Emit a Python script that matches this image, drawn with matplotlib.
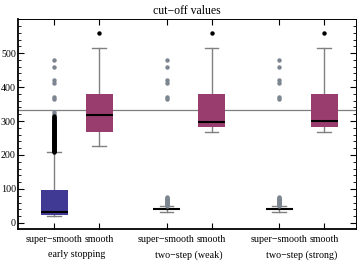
import matplotlib
matplotlib.use("Agg")
import matplotlib.pyplot as plt
from matplotlib.ticker import MultipleLocator
import matplotlib.transforms as mtransforms

plt.rcParams['font.family'] = ['Liberation Serif', 'DejaVu Serif']

# ---- data ----
positions = [1, 2, 3.5, 4.5, 6, 7]
tick_labels = ["super\u2212smooth", "smooth", "super\u2212smooth", "smooth", "super\u2212smooth", "smooth"]
group_labels = ["early stopping", "two\u2212step (weak)", "two\u2212step (strong)"]
group_centers = [1.5, 4.0, 6.5]
box_colors = ["#413a94", "#993d6e", "#413a94", "#993d6e", "#413a94", "#993d6e"]

whislo = [20, 226, 32, 267, 32, 267]
q1 = [24, 267, 37, 283, 37, 283]
medians = [32, 319, 40, 296, 40, 300]
q3 = [97, 379, 42, 379, 42, 379]
whishi = [208, 515, 49, 515, 49, 515]

near_outliers = [
    [209, 211, 213, 215, 217, 219, 221, 223, 225, 227, 229, 231, 233, 235, 237,
     239, 241, 243, 245, 247, 249, 251, 253, 255, 257, 259, 261, 263, 265, 267,
     269, 271, 273, 275, 277, 279, 281, 283, 285, 287, 289, 291, 293, 295, 297,
     299, 301, 303, 306, 309, 312, 316],
    [560],
    [],
    [560],
    [],
    [560],
]
far_outliers = [
    [322, 326, 365, 372, 412, 420, 460, 480],
    [],
    [51, 53, 55, 57, 59, 61, 63, 65, 67, 69, 71, 73, 75, 365, 372, 412, 420, 460, 480],
    [],
    [51, 53, 55, 57, 59, 61, 63, 65, 67, 69, 71, 73, 75, 365, 372, 412, 420, 460, 480],
    [],
]
reference_level = 332

# ---- figure ----
fig = plt.figure(figsize=(3.6, 2.62), dpi=100)
ax = fig.add_axes([0.05, 0.126, 0.939, 0.801])

stats = []
for i in range(len(positions)):
    stats.append(dict(whislo=whislo[i], q1=q1[i], med=medians[i], q3=q3[i],
                      whishi=whishi[i], fliers=[]))

bp = ax.bxp(stats, positions=positions, widths=0.6, patch_artist=True,
            showfliers=False, capwidths=0.3,
            boxprops=dict(linewidth=0),
            whiskerprops=dict(color="#808080", linewidth=1.0),
            capprops=dict(color="#808080", linewidth=1.0),
            medianprops=dict(color="black", linewidth=1.5))
for patch, c in zip(bp['boxes'], box_colors):
    patch.set_facecolor(c)
    patch.set_edgecolor(c)
for w in bp['whiskers']:
    w.set_zorder(1)

for i, p in enumerate(positions):
    if far_outliers[i]:
        ax.plot([p] * len(far_outliers[i]), far_outliers[i], 'o', color="#7d8590",
                markersize=3.2, markeredgewidth=0, zorder=3)
    if near_outliers[i]:
        ax.plot([p] * len(near_outliers[i]), near_outliers[i], 'o', color="black",
                markersize=3.2, markeredgewidth=0, zorder=3)

ax.axhline(reference_level, color="#7f7f7f", linewidth=0.9, zorder=0.5)

ax.set_xlim(0.2, 7.71)
ax.set_ylim(-18, 600)
ax.set_xticks(positions)
ax.set_xticklabels(tick_labels, fontsize=7.2)
ax.yaxis.set_major_locator(MultipleLocator(100))
ax.yaxis.set_minor_locator(MultipleLocator(20))
ax.set_yticks([0, 100, 200, 300, 400, 500])
ax.tick_params(axis='y', labelsize=7.2, pad=1.5)
ax.tick_params(axis='both', which='both', direction='in', top=True, right=True)
ax.tick_params(which='major', length=4, width=0.8)
ax.tick_params(which='minor', length=2.2, width=0.6)
ax.tick_params(axis='x', pad=4)

for s in ['left', 'bottom']:
    ax.spines[s].set_linewidth(1.3)
for s in ['top', 'right']:
    ax.spines[s].set_linewidth(0.7)

trans = mtransforms.blended_transform_factory(ax.transData, ax.transAxes)
for gc, gl in zip(group_centers, group_labels):
    ax.text(gc, -0.1, gl, transform=trans, ha='center', va='top', fontsize=7.2)

ax.set_title("cut\u2212off values", fontsize=8.5, pad=4)

fig.savefig("out.png", dpi=100)
